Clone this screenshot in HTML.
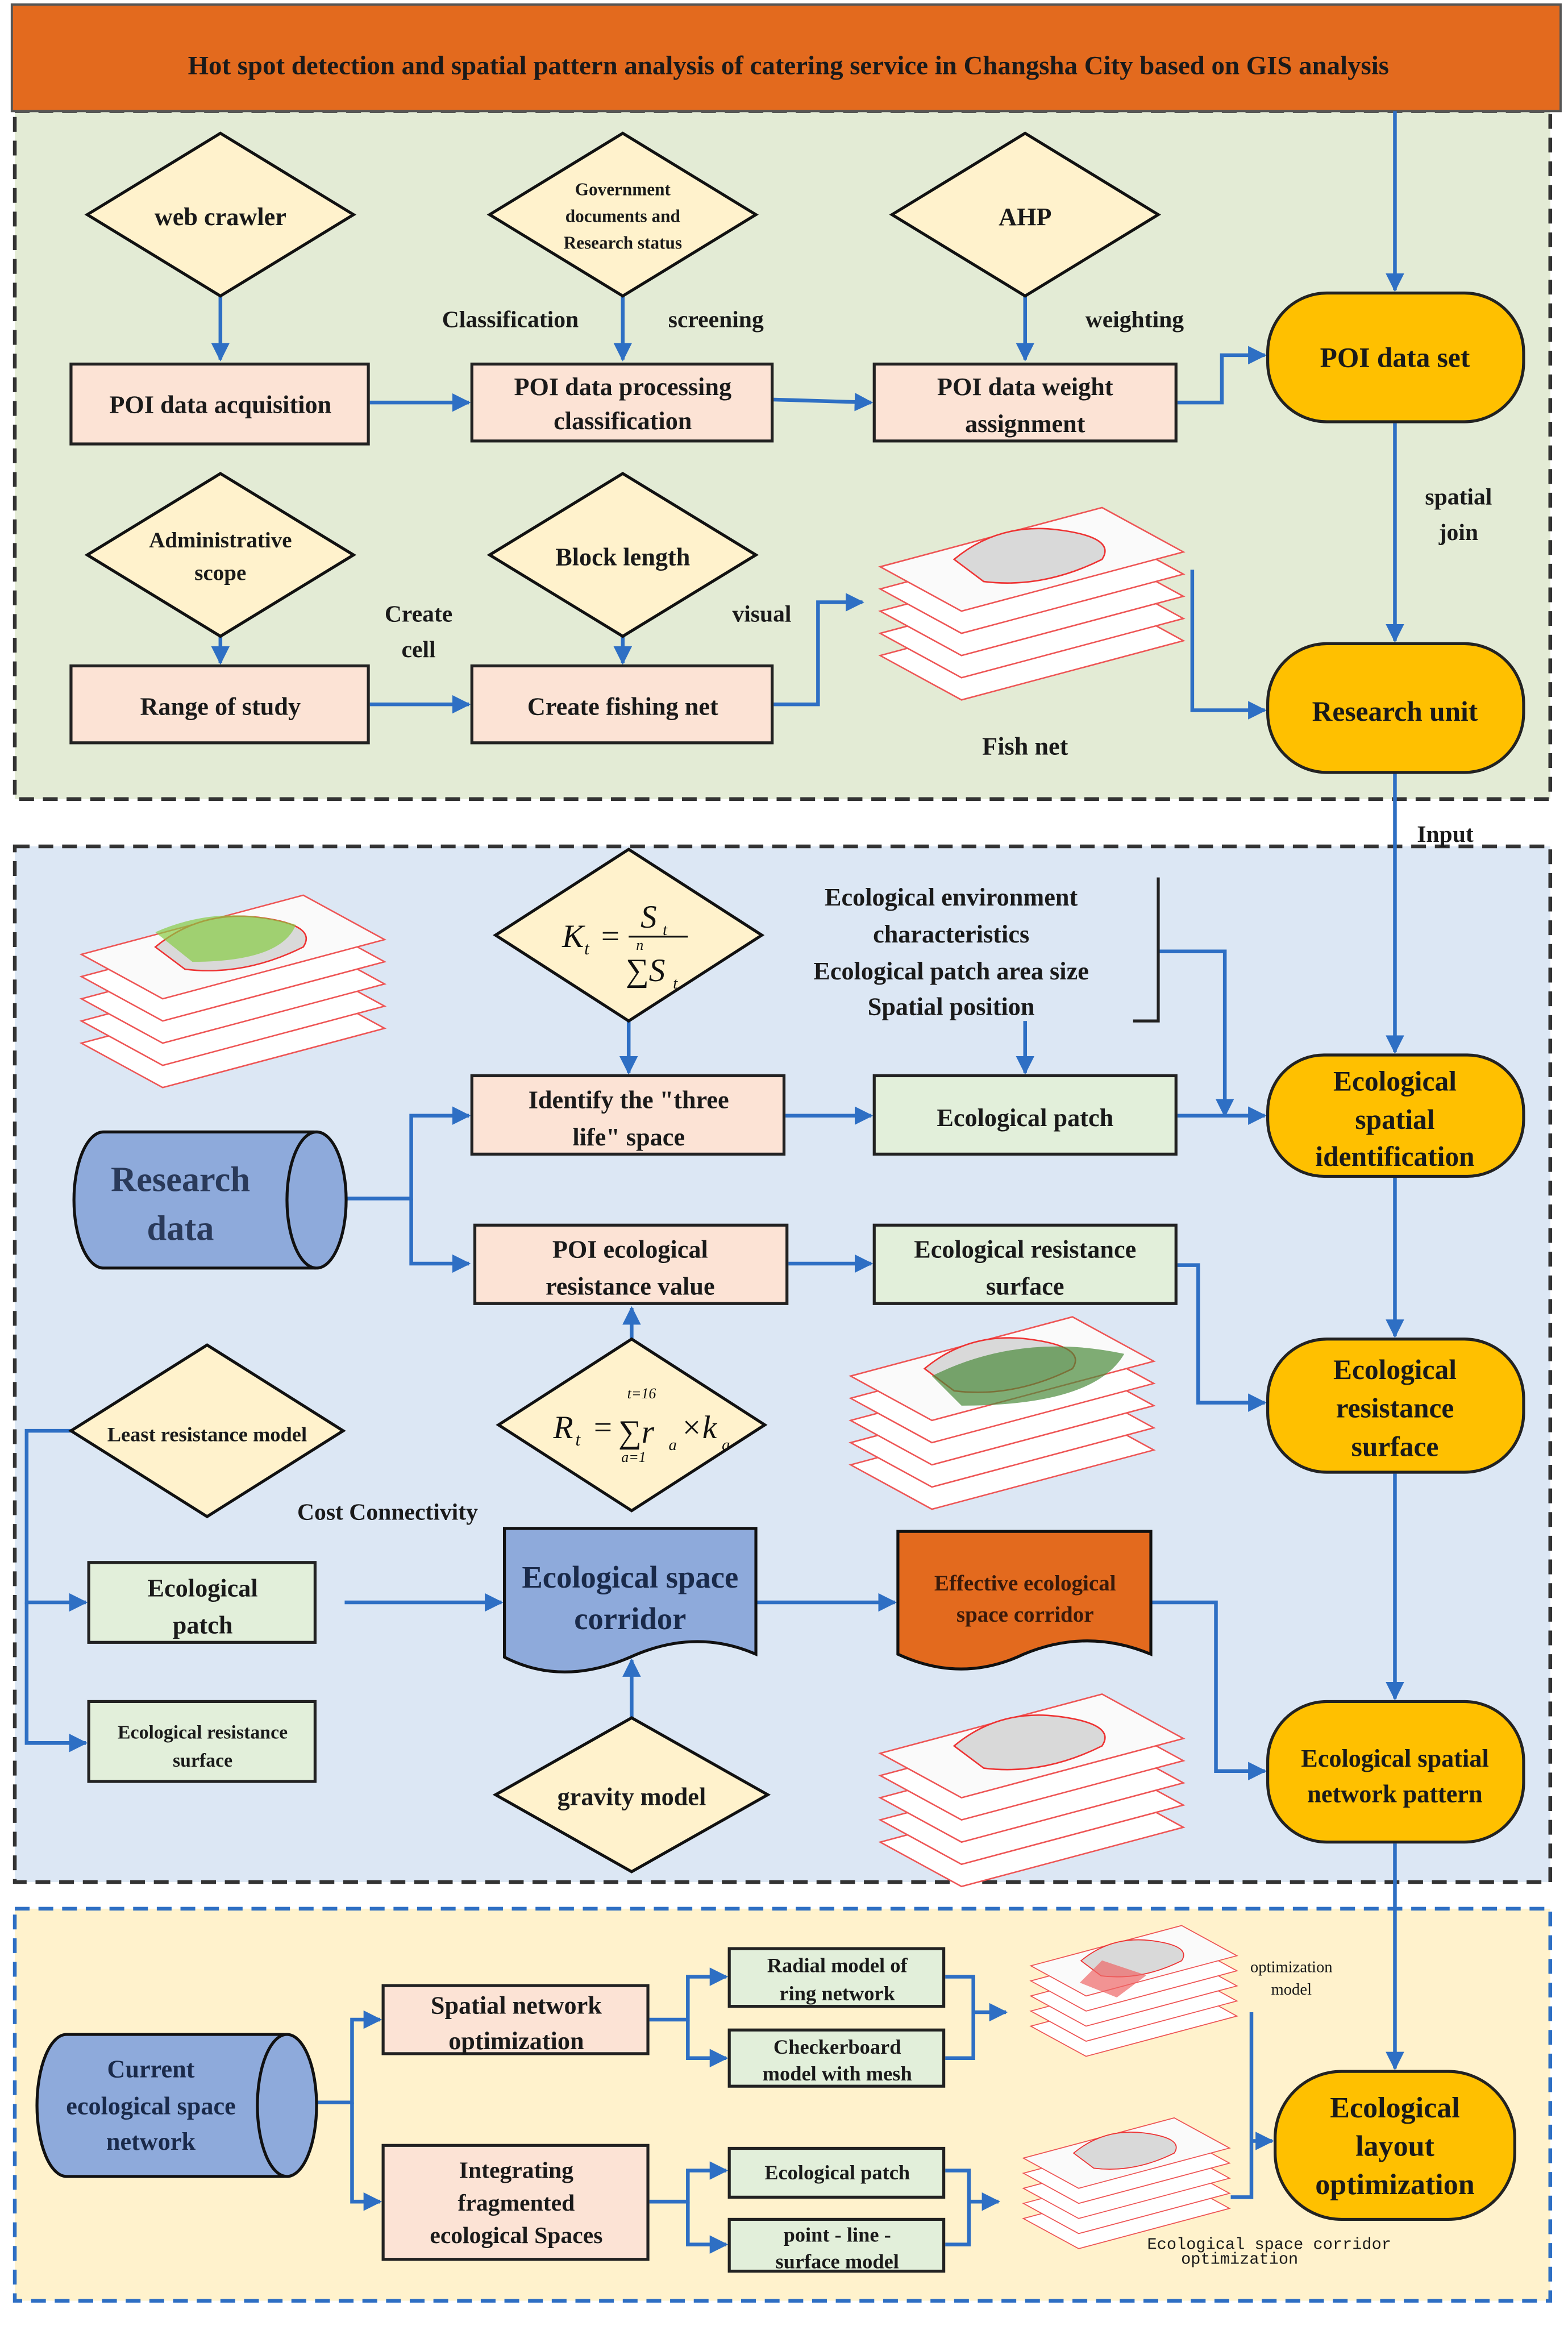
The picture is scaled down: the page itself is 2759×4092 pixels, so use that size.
<!DOCTYPE html>
<html><head><meta charset="utf-8"><style>html,body{margin:0;padding:0;background:#fff}svg{display:block}</style></head><body>
<svg xmlns="http://www.w3.org/2000/svg" width="2759" height="4092" viewBox="0 0 1060 1572" font-family="Liberation Serif, serif" font-weight="bold">
<defs>
<marker id="a" viewBox="0 0 10 10" refX="9" refY="5" markerWidth="5" markerHeight="5" orient="auto"><path d="M0,0L10,5L0,10z" fill="#2E6FC4"/></marker>
<g id="stack">
<path d="M10,105 L160,65 L215,95 L65,135z" fill="#fff" stroke="#e55" stroke-width="1"/>
<path d="M10,90 L160,50 L215,80 L65,120z" fill="#fff" stroke="#e55" stroke-width="1"/>
<path d="M10,75 L160,35 L215,65 L65,105z" fill="#fff" stroke="#e55" stroke-width="1"/>
<path d="M10,60 L160,20 L215,50 L65,90z" fill="#fff" stroke="#e55" stroke-width="1"/>
<path d="M10,45 L160,5 L215,35 L65,75z" fill="#fafafa" stroke="#e55" stroke-width="1"/>
<path d="M60,40 Q90,15 130,20 Q170,25 160,40 Q120,60 80,55z" fill="#d9d9d9" stroke="#e33" stroke-width="1"/>
</g>
</defs>
<rect x="10" y="75" width="1038" height="465" fill="#E3EBD5" stroke="#333" stroke-width="2.5" stroke-dasharray="10,6"/>
<rect x="10" y="572" width="1038" height="700" fill="#DCE7F4" stroke="#333" stroke-width="2.5" stroke-dasharray="10,6"/>
<rect x="10" y="1290" width="1038" height="265" fill="#FFF2CC" stroke="#2E6FC4" stroke-width="2.5" stroke-dasharray="10,6"/>
<rect x="8" y="3" width="1047" height="72" fill="#E36A1E" stroke="#555" stroke-width="1.5"/>
<text x="533" y="50" text-anchor="middle" font-size="18" fill="#1a1a1a">Hot spot detection and spatial pattern analysis of catering service in Changsha City based on GIS analysis</text>

<g stroke="#2E6FC4" stroke-width="2.5" fill="none" marker-end="url(#a)">
<path d="M943,75 V196"/>
<path d="M149,200 V243"/><path d="M421,200 V243"/><path d="M693,200 V243"/>
<path d="M250,272 H317"/><path d="M523,270 L589,272"/>
<path d="M796,272 H826 V240 H855"/>
<path d="M943,286 V433"/>
<path d="M149,430 V448"/><path d="M421,430 V448"/>
<path d="M250,476 H317"/><path d="M523,476 H553 V407 H583"/>
<path d="M806,385 V480 H855"/>
<path d="M943,523 V711"/>
<path d="M425,690 V725"/><path d="M693,690 V725"/>
<path d="M232,810 H278 V754 H317"/><path d="M278,810 V854 H317"/>
<path d="M531,754 H589"/><path d="M533,854 H589"/>
<path d="M796,754 H855"/><path d="M783,643 H828 V754"/>
<path d="M943,796 V903"/>
<path d="M796,855 H810 V948 H855"/>
<path d="M427,905 V884"/>
<path d="M943,996 V1148"/>
<path d="M48,967 H18 V1083 H58"/><path d="M18,1083 V1178 H58"/>
<path d="M233,1083 H339"/><path d="M511,1083 H605"/>
<path d="M427,1161 V1122"/>
<path d="M778,1083 H822 V1197 H855"/>
<path d="M943,1246 V1398"/>
<path d="M212,1421 H238 V1365 H257"/><path d="M238,1421 V1488 H257"/>
<path d="M439,1365 H465 V1336 H491"/><path d="M465,1365 V1391 H491"/>
<path d="M639,1336 H658 V1391 H639" marker-end="none"/><path d="M658,1360 H680"/>
<path d="M439,1488 H465 V1467 H491"/><path d="M465,1488 V1517 H491"/>
<path d="M639,1467 H655 V1517 H639" marker-end="none"/><path d="M655,1488 H675"/>
<path d="M846,1360 V1485 H832" marker-end="none"/><path d="M846,1447 H860"/>
</g>
<path d="M783,593 V690 H766" fill="none" stroke="#222" stroke-width="2"/>

<g fill="#FFF2CC" stroke="#111" stroke-width="2">
<path d="M149,90 L239,145 L149,200 L59,145z"/>
<path d="M421,90 L511,145 L421,200 L331,145z"/>
<path d="M693,90 L783,145 L693,200 L603,145z"/>
<path d="M149,320 L239,375 L149,430 L59,375z"/>
<path d="M421,320 L511,375 L421,430 L331,375z"/>
<path d="M425,574 L515,632 L425,690 L335,632z"/>
<path d="M427,905 L517,963 L427,1021 L337,963z"/>
<path d="M140,909 L232,967 L140,1025 L48,967z"/>
<path d="M427,1161 L519,1213 L427,1265 L335,1213z"/>
</g>
<g fill="#FCE3D5" stroke="#222" stroke-width="2">
<rect x="48" y="246" width="201" height="54"/><rect x="319" y="246" width="203" height="52"/><rect x="591" y="246" width="204" height="52"/>
<rect x="48" y="450" width="201" height="52"/><rect x="319" y="450" width="203" height="52"/>
<rect x="319" y="727" width="211" height="53"/><rect x="321" y="828" width="211" height="53"/>
<rect x="259" y="1342" width="179" height="46"/><rect x="259" y="1450" width="179" height="77"/>
</g>
<g fill="#E2EFDA" stroke="#222" stroke-width="2">
<rect x="591" y="727" width="204" height="53"/><rect x="591" y="828" width="204" height="53"/>
<rect x="60" y="1056" width="153" height="54"/><rect x="60" y="1150" width="153" height="54"/>
<rect x="493" y="1317" width="145" height="39"/><rect x="493" y="1372" width="145" height="38"/>
<rect x="493" y="1452" width="145" height="33"/><rect x="493" y="1500" width="145" height="35"/>
</g>
<g fill="#FFC000" stroke="#222" stroke-width="2">
<rect x="857" y="198" width="173" height="87" rx="40"/>
<rect x="857" y="435" width="173" height="87" rx="40"/>
<rect x="857" y="713" width="173" height="82" rx="38"/>
<rect x="857" y="905" width="173" height="90" rx="40"/>
<rect x="857" y="1150" width="173" height="95" rx="40"/>
<rect x="862" y="1400" width="162" height="100" rx="45"/>
</g>
<g fill="#8EAADB" stroke="#111" stroke-width="2">
<path d="M70,765 H212 A20,46 0 0 1 212,857 H70 A20,46 0 0 1 70,765z"/>
<ellipse cx="214" cy="811" rx="20" ry="46"/>
<path d="M45,1375 H192 A20,48 0 0 1 192,1471 H45 A20,48 0 0 1 45,1375z"/>
<ellipse cx="194" cy="1423" rx="20" ry="48"/>
</g>
<path d="M341,1033 H511 V1118 Q470,1100 426,1120 Q380,1140 341,1120z" fill="#8EAADB" stroke="#111" stroke-width="2"/>
<path d="M607,1035 H778 V1118 Q735,1100 692,1118 Q650,1138 607,1118z" fill="#E36A1E" stroke="#111" stroke-width="2"/>
<use href="#stack" x="585" y="338"/>
<use href="#stack" x="45" y="600"/>
<use href="#stack" x="565" y="885"/>
<use href="#stack" x="585" y="1140"/>
<g transform="translate(690,1298) scale(0.68)"><use href="#stack"/></g>
<g transform="translate(685,1428) scale(0.68)"><use href="#stack"/></g>
<path d="M105,630 Q150,610 200,625 Q190,650 130,650z" fill="#8c4" opacity=".7"/>
<path d="M630,930 Q690,900 760,915 Q740,950 650,950z" fill="#4a8a3a" opacity=".7"/>
<path d="M745,1325 L775,1335 L755,1350 L730,1340z" fill="#e66" opacity=".7"/>

<g fill="#1a1a1a" font-size="17" text-anchor="middle">
<text x="149" y="152">web crawler</text>
<text x="421" y="132" font-size="12">Government</text><text x="421" y="150" font-size="12">documents and</text><text x="421" y="168" font-size="12">Research status</text>
<text x="693" y="152">AHP</text>
<text x="345" y="221" font-size="16">Classification</text><text x="484" y="221" font-size="16">screening</text><text x="767" y="221" font-size="16">weighting</text>
<text x="149" y="279">POI data acquisition</text>
<text x="421" y="267">POI data processing</text><text x="421" y="290">classification</text>
<text x="693" y="267">POI data weight</text><text x="693" y="292">assignment</text>
<text x="943" y="248" font-size="19">POI data set</text>
<text x="986" y="341" font-size="16">spatial</text><text x="986" y="365" font-size="16">join</text>
<text x="149" y="370" font-size="15">Administrative</text><text x="149" y="392" font-size="15">scope</text>
<text x="421" y="382">Block length</text>
<text x="283" y="420" font-size="16">Create</text><text x="283" y="444" font-size="16">cell</text>
<text x="515" y="420" font-size="16">visual</text>
<text x="149" y="483">Range of study</text><text x="421" y="483">Create fishing net</text>
<text x="693" y="510">Fish net</text>
<text x="943" y="487" font-size="19">Research unit</text>
<text x="977" y="569" font-size="16">Input</text>
<text x="643" y="612">Ecological environment</text><text x="643" y="637">characteristics</text><text x="643" y="662">Ecological patch area size</text><text x="643" y="686">Spatial position</text>
<text x="425" y="749">Identify the "three</text><text x="425" y="774">life" space</text>
<text x="693" y="761">Ecological patch</text>
<text x="943" y="737" font-size="19">Ecological</text><text x="943" y="763" font-size="19">spatial</text><text x="943" y="788" font-size="19">identification</text>
<text x="122" y="805" font-size="24" fill="#2a3a5a">Research</text><text x="122" y="838" font-size="24" fill="#2a3a5a">data</text>
<text x="426" y="850">POI ecological</text><text x="426" y="875">resistance value</text>
<text x="693" y="850">Ecological resistance</text><text x="693" y="875">surface</text>
<text x="943" y="932" font-size="19">Ecological</text><text x="943" y="958" font-size="19">resistance</text><text x="943" y="984" font-size="19">surface</text>
<text x="140" y="974" font-size="14">Least resistance model</text>
<text x="262" y="1027" font-size="16">Cost Connectivity</text>
<text x="137" y="1079">Ecological</text><text x="137" y="1104">patch</text>
<text x="137" y="1175" font-size="13">Ecological resistance</text><text x="137" y="1194" font-size="13">surface</text>
<text x="426" y="1073" font-size="21" fill="#1a2a4a">Ecological space</text><text x="426" y="1101" font-size="21" fill="#1a2a4a">corridor</text>
<text x="693" y="1075" font-size="15" fill="#3a1a0a">Effective ecological</text><text x="693" y="1096" font-size="15" fill="#3a1a0a">space corridor</text>
<text x="427" y="1220">gravity model</text>
<text x="943" y="1194">Ecological spatial</text><text x="943" y="1218">network pattern</text>
<text x="102" y="1404" fill="#1a2a4a">Current</text><text x="102" y="1429" fill="#1a2a4a">ecological space</text><text x="102" y="1453" fill="#1a2a4a">network</text>
<text x="349" y="1361">Spatial network</text><text x="349" y="1385">optimization</text>
<text x="349" y="1472" font-size="16">Integrating</text><text x="349" y="1494" font-size="16">fragmented</text><text x="349" y="1516" font-size="16">ecological Spaces</text>
<text x="566" y="1333" font-size="14">Radial model of</text><text x="566" y="1352" font-size="14">ring network</text>
<text x="566" y="1388" font-size="14">Checkerboard</text><text x="566" y="1406" font-size="14">model with mesh</text>
<text x="566" y="1473" font-size="14">Ecological patch</text>
<text x="566" y="1515" font-size="14">point - line -</text><text x="566" y="1533" font-size="14">surface model</text>
<text x="873" y="1333" font-size="11" font-weight="normal">optimization</text><text x="873" y="1348" font-size="11" font-weight="normal">model</text>
<text x="858" y="1520" font-size="11" font-weight="normal" font-family="Liberation Mono, monospace">Ecological space corridor</text><text x="838" y="1530" font-size="11" font-weight="normal" font-family="Liberation Mono, monospace">optimization</text>
<text x="943" y="1431" font-size="20">Ecological</text><text x="943" y="1457" font-size="20">layout</text><text x="943" y="1483" font-size="20">optimization</text>
</g>
<g font-style="italic" font-weight="normal" font-size="22" fill="#111">
<text x="380" y="640">K</text><text x="395" y="645" font-size="12">t</text><text x="405" y="640">=</text>
<text x="433" y="627">S</text><text x="448" y="632" font-size="11">t</text>
<line x1="425" y1="633" x2="465" y2="633" stroke="#111" stroke-width="1.2"/>
<text x="430" y="642" font-size="10">n</text><text x="423" y="663">∑S</text><text x="455" y="668" font-size="11">t</text>
<text x="374" y="972">R</text><text x="389" y="977" font-size="12">t</text><text x="400" y="972">=</text>
<text x="418" y="975">∑r</text><text x="452" y="980" font-size="11">a</text><text x="460" y="972">×k</text><text x="488" y="980" font-size="11">a</text>
<text x="424" y="945" font-size="10">t=16</text><text x="420" y="988" font-size="10">a=1</text>
</g>
</svg>
</body></html>
